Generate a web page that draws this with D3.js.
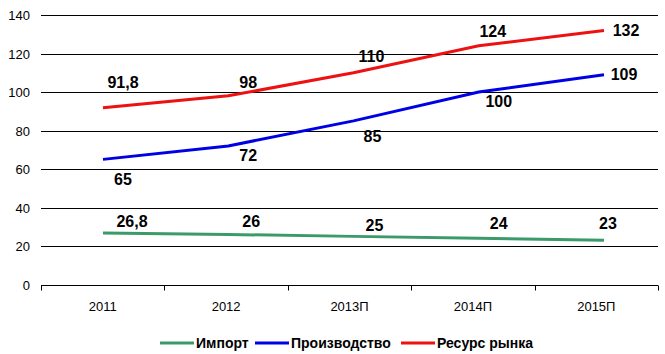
<!DOCTYPE html>
<html>
<head>
<meta charset="utf-8">
<script src="https://cdn.jsdelivr.net/npm/d3@7"></script>
<style>
  body { margin: 0; background: #fff; }
  text { font-family: "Liberation Sans", Arial, sans-serif; }
</style>
</head>
<body>
<div id="chart"></div>
<script>
const years = ["2011", "2012", "2013П", "2014П", "2015П"];
const importVals = [26.8, 26, 25, 24, 23];
const prodVals = [65, 72, 85, 100, 109];
const resVals = [91.8, 98, 110, 124, 132];
const yTicks = [0, 20, 40, 60, 80, 100, 120, 140];

// label offsets (dx, dy from the point) per series
const importLabelPos = [[29, -6], [23, -7], [21, -5], [20, -9], [4, -11]];
const prodLabelPos = [[20, 26], [20, 15], [19, 21], [20, 15], [20, 5]];
const resLabelPos = [[20, -20], [20, -8], [18, -11], [14, -9], [22, 6]];

const series = [
  {name: "Импорт", values: importVals, color: "#3b9a69", pos: importLabelPos},
  {name: "Производство", values: prodVals, color: "#0000e6", pos: prodLabelPos},
  {name: "Ресурс рынка", values: resVals, color: "#ee1111", pos: resLabelPos}
];

const fmt = v => String(v).replace(".", ",");

const width = 665, height = 354;
const margin = {top: 15, right: 7, bottom: 70, left: 41};

const svg = d3.select("#chart").append("svg")
    .attr("width", width)
    .attr("height", height);

const x = d3.scaleBand()
    .domain(years)
    .range([margin.left, width - margin.right]);

// the line points sit a bit wider than the band centres in the original
const xp = d3.scalePoint()
    .domain(years)
    .range([103, 604]);

const y = d3.scaleLinear()
    .domain([0, 140])
    .range([height - margin.bottom + 0.5, margin.top]);

// gridlines + y labels
const grid = svg.append("g");
grid.selectAll("line")
    .data(yTicks)
    .enter().append("line")
    .attr("x1", margin.left)
    .attr("x2", width - margin.right)
    .attr("y1", d => Math.round(y(d)) + 0.5)
    .attr("y2", d => Math.round(y(d)) + 0.5)
    .attr("stroke", "#000")
    .attr("stroke-width", 1);
grid.selectAll("text")
    .data(yTicks)
    .enter().append("text")
    .attr("x", 30)
    .attr("y", d => Math.round(y(d)) + 5)
    .attr("text-anchor", "end")
    .style("font-size", "13px")
    .text(d => d);

// x axis
const xAxis = d3.axisBottom(x).tickSize(0).tickPadding(16);
const gx = svg.append("g")
    .attr("transform", `translate(0,${Math.round(y(0)) + 0.5})`)
    .call(xAxis);
gx.select(".domain").remove();
gx.selectAll("text")
    .style("font-size", "13px")
    .style("font-family", "Liberation Sans, Arial, sans-serif")
    .attr("fill", "#000");
const bounds = years.map(d => x(d)).concat([x.range()[1]]);
gx.selectAll(".bound")
    .data(bounds)
    .enter().append("line")
    .attr("x1", d => Math.round(d) + 0.5)
    .attr("x2", d => Math.round(d) + 0.5)
    .attr("y1", 0)
    .attr("y2", 5)
    .attr("stroke", "#000");

const line = d3.line()
    .x((d, i) => xp(years[i]))
    .y(d => y(d));

series.forEach(s => {
    svg.append("path")
        .datum(s.values)
        .attr("d", line)
        .attr("fill", "none")
        .attr("stroke", s.color)
        .attr("stroke-width", 3);

    svg.selectAll(null)
        .data(s.values)
        .enter().append("text")
        .attr("x", (d, i) => xp(years[i]) + s.pos[i][0])
        .attr("y", (d, i) => y(d) + s.pos[i][1])
        .attr("text-anchor", "middle")
        .style("font-size", "16px")
        .style("font-weight", "bold")
        .text(d => fmt(d));
});

// legend
const legendX = [160, 255, 401];
const lg = svg.append("g").attr("transform", "translate(0,343)");
series.forEach((s, i) => {
    lg.append("line")
        .attr("x1", legendX[i])
        .attr("x2", legendX[i] + 34)
        .attr("y1", 0)
        .attr("y2", 0)
        .attr("stroke", s.color)
        .attr("stroke-width", 3);
    lg.append("text")
        .attr("x", legendX[i] + 36)
        .attr("y", 5)
        .style("font-size", "14px")
        .style("font-weight", "bold")
        .text(s.name);
});
</script>
</body>
</html>
